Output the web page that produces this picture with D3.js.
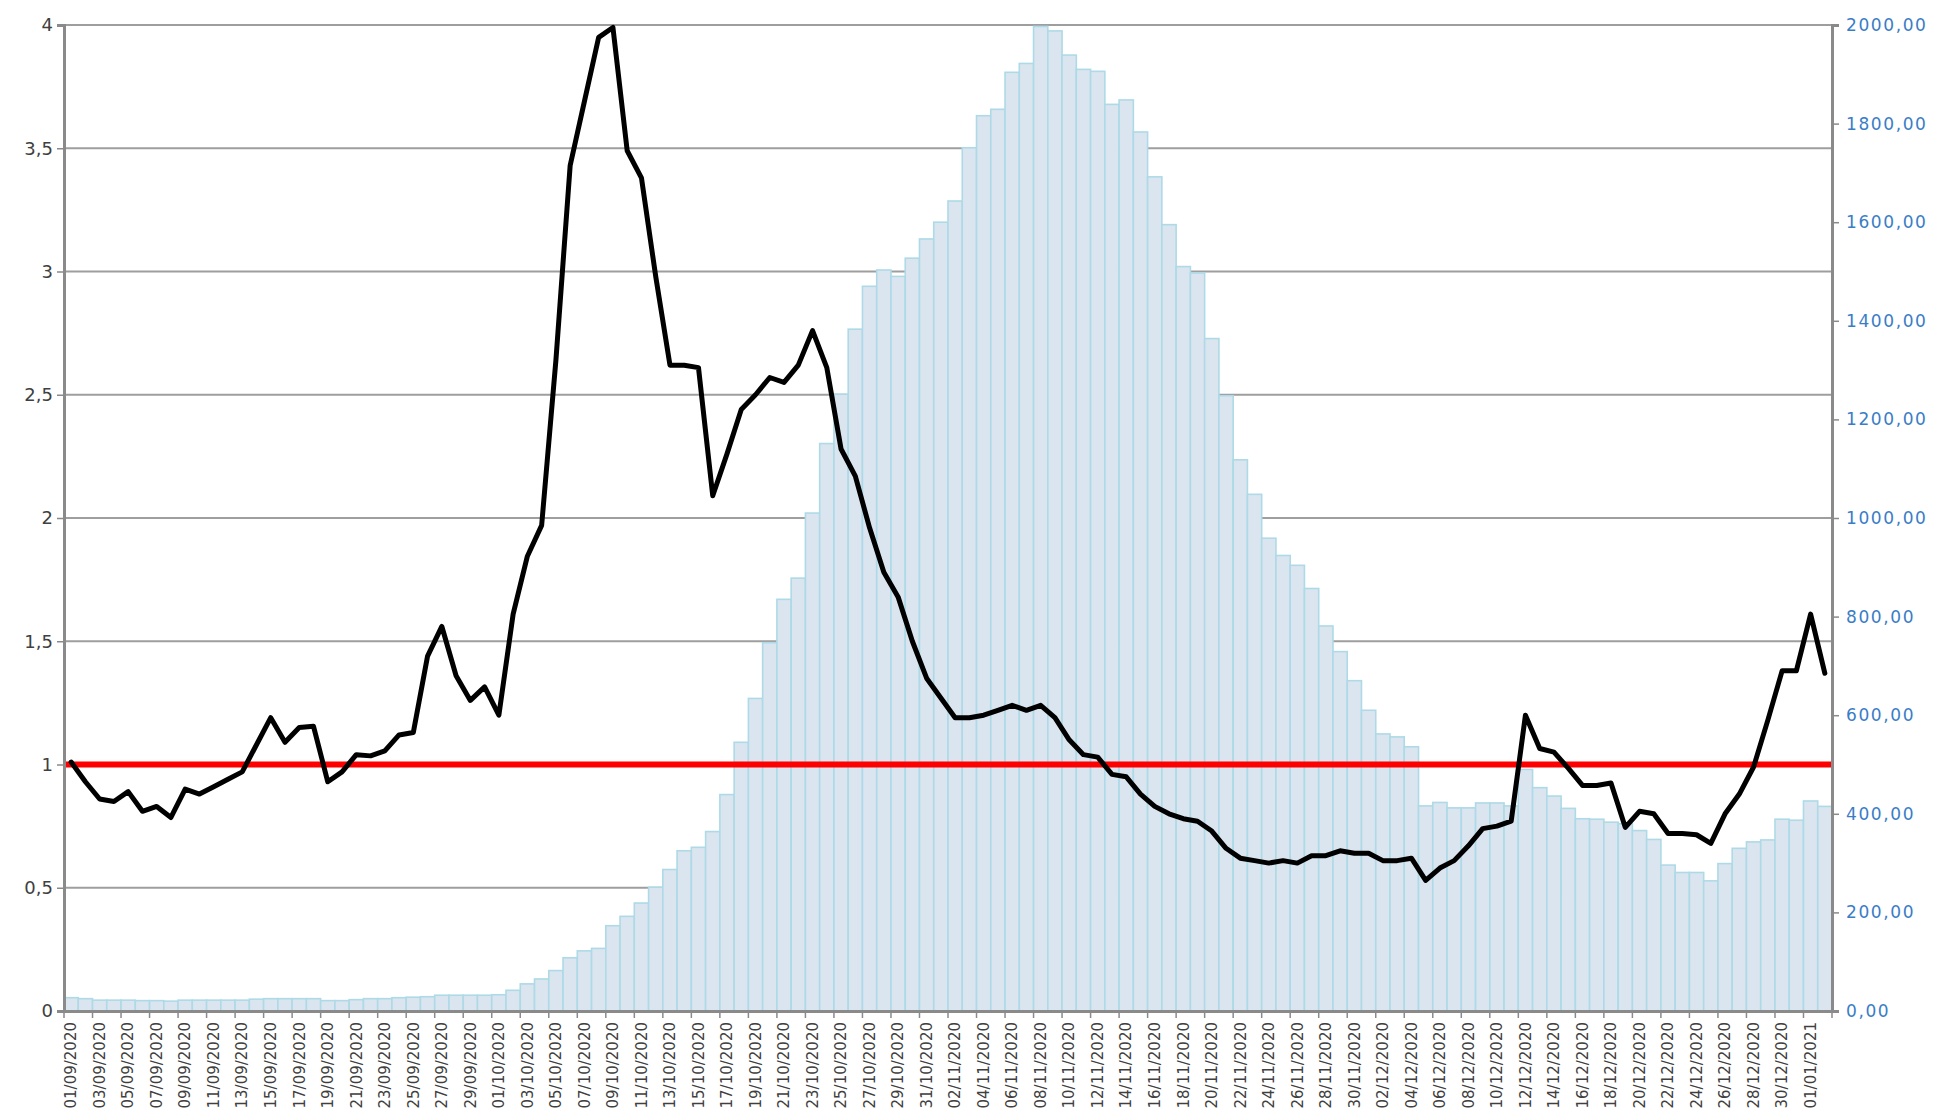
<!DOCTYPE html>
<html>
<head>
<meta charset="utf-8">
<script src="https://cdn.jsdelivr.net/npm/d3@7"></script>
<style>
  html, body { margin: 0; padding: 0; background: #ffffff; }
  svg { display: block; }
  text { font-family: "DejaVu Sans", Verdana, sans-serif; }
</style>
</head>
<body>
<svg id="chart" width="1934" height="1117"></svg>
<script>
// ---- Data ----
const startDate = new Date(2020, 8, 1);   // 01/09/2020
const endDate = new Date(2021, 0, 3);     // exclusive -> last day 02/01/2021
const fmtDay = d3.timeFormat("%d/%m/%Y");
const categories = d3.timeDay.range(startDate, endDate).map(fmtDay);

// Bars (right axis)
const barValues = [
  27, 25, 22, 22, 22, 21, 21, 20, 22, 22,
  22, 22, 22, 24, 25, 25, 25, 25, 21, 21,
  23, 25, 25, 27, 28, 29, 32, 32, 32, 32,
  33, 42, 55, 65, 82, 108, 122, 127, 173, 192,
  219, 251, 287, 325, 332, 364, 439, 545, 634, 747,
  835, 878, 1010, 1151, 1251, 1383, 1470, 1503, 1490, 1527,
  1566, 1600, 1643, 1751, 1816, 1829, 1904, 1922, 1997, 1988,
  1939, 1910, 1906, 1839, 1848, 1783, 1692, 1595, 1510, 1497,
  1364, 1248, 1118, 1048, 959, 924, 904, 857, 781, 729,
  670, 610, 562, 556, 536, 416, 423, 412, 412, 422,
  422, 416, 490, 453, 436, 411, 390, 389, 383, 380,
  366, 348, 296, 281, 281, 264, 299, 330, 343, 347,
  389, 387, 426, 415
];

// Line (left axis)
const lineValues = [
  1.01, 0.93, 0.86, 0.85, 0.89, 0.81, 0.83, 0.785, 0.90, 0.88,
  0.91, 0.94, 0.97, 1.08, 1.19, 1.09, 1.15, 1.155, 0.93, 0.97,
  1.04, 1.035, 1.055, 1.12, 1.13, 1.44, 1.56, 1.36, 1.26, 1.315,
  1.20, 1.61, 1.845, 1.97, 2.64, 3.43, 3.69, 3.95, 3.99, 3.49,
  3.38, 2.98, 2.62, 2.62, 2.61, 2.09, 2.26, 2.44, 2.50, 2.57,
  2.55, 2.62, 2.76, 2.61, 2.28, 2.17, 1.96, 1.78, 1.68, 1.50,
  1.35, 1.27, 1.19, 1.19, 1.20, 1.22, 1.24, 1.22, 1.24, 1.19,
  1.10, 1.04, 1.03, 0.96, 0.95, 0.88, 0.83, 0.80, 0.78, 0.77,
  0.73, 0.66, 0.62, 0.61, 0.60, 0.61, 0.60, 0.63, 0.63, 0.65,
  0.64, 0.64, 0.61, 0.61, 0.62, 0.53, 0.58, 0.61, 0.67, 0.74,
  0.75, 0.77, 1.20, 1.065, 1.05, 0.985, 0.915, 0.915, 0.925, 0.745,
  0.81, 0.80, 0.72, 0.72, 0.715, 0.68, 0.80, 0.88, 0.99, 1.18,
  1.38, 1.38, 1.61, 1.37
];

const thresholdValue = 1;
const leftTicks = [0, 0.5, 1, 1.5, 2, 2.5, 3, 3.5, 4];
const rightTicks = [0, 200, 400, 600, 800, 1000, 1200, 1400, 1600, 1800, 2000];

// ---- Layout ----
const plot = { left: 64, right: 1832, top: 25, bottom: 1011 };
const svg = d3.select("#chart");

const x = d3.scaleBand().domain(categories).range([plot.left, plot.right]).padding(0);
const yL = d3.scaleLinear().domain([0, 4]).range([plot.bottom, plot.top]);
const yR = d3.scaleLinear().domain([0, 2000]).range([plot.bottom, plot.top]);

const commaFmt = v => String(v).replace(".", ",");
const rightFmt = v => d3.format(".2f")(v).replace(".", ",");

// Gridlines (behind bars)
svg.append("g")
  .selectAll("line")
  .data(leftTicks.filter(d => d > 0))
  .join("line")
  .attr("x1", plot.left).attr("x2", plot.right)
  .attr("y1", d => yL(d)).attr("y2", d => yL(d))
  .attr("stroke", "#9e9e9e").attr("stroke-width", 2);

// Bars
svg.append("g")
  .selectAll("rect")
  .data(barValues)
  .join("rect")
  .attr("x", (d, i) => x(categories[i]))
  .attr("y", d => yR(d))
  .attr("width", x.bandwidth())
  .attr("height", d => yR(0) - yR(d))
  .attr("fill", "#dbe5f0")
  .attr("stroke", "#addae6")
  .attr("stroke-width", 1.6);

// Threshold line
svg.append("line")
  .attr("x1", plot.left).attr("x2", plot.right)
  .attr("y1", yL(thresholdValue)).attr("y2", yL(thresholdValue))
  .attr("stroke", "#ff0000").attr("stroke-width", 6);

// Black line
const line = d3.line()
  .x((d, i) => x(categories[i]) + x.bandwidth() / 2)
  .y(d => yL(d));
svg.append("path")
  .datum(lineValues)
  .attr("d", line)
  .attr("fill", "none")
  .attr("stroke", "#000000")
  .attr("stroke-width", 5)
  .attr("stroke-linejoin", "round")
  .attr("stroke-linecap", "round");

// Left axis
const leftAxis = svg.append("g")
  .attr("transform", `translate(${plot.left},0)`)
  .call(d3.axisLeft(yL).tickValues(leftTicks).tickFormat(commaFmt).tickSize(7).tickPadding(4));
leftAxis.select(".domain").attr("stroke", "#8a8a8a").attr("stroke-width", 3);
leftAxis.selectAll(".tick line").attr("stroke", "#8a8a8a").attr("stroke-width", 1.5);
leftAxis.selectAll(".tick text").attr("font-size", 18).attr("fill", "#404040");

// Right axis
const rightAxis = svg.append("g")
  .attr("transform", `translate(${plot.right},0)`)
  .call(d3.axisRight(yR).tickValues(rightTicks).tickFormat(rightFmt).tickSize(7).tickPadding(7));
rightAxis.select(".domain").attr("stroke", "#8a8a8a").attr("stroke-width", 3);
rightAxis.selectAll(".tick line").attr("stroke", "#8a8a8a").attr("stroke-width", 1.5);
rightAxis.selectAll(".tick text").attr("font-size", 17).attr("fill", "#3a7dc6").attr("letter-spacing", 1.6);

// Bottom axis: labels every 2 days, ticks at band boundaries
const labelCats = categories.filter((d, i) => i % 2 === 0);
const bottomAxis = svg.append("g")
  .attr("transform", `translate(0,${plot.bottom})`)
  .call(d3.axisBottom(x).tickValues(labelCats).tickSize(0).tickPadding(0));
bottomAxis.select(".domain").attr("stroke", "#8a8a8a").attr("stroke-width", 3);
bottomAxis.selectAll(".tick text")
  .attr("font-size", 15)
  .attr("fill", "#404040")
  .attr("text-anchor", "end")
  .attr("dy", "0.35em")
  .attr("transform", "translate(0,11) rotate(-90)")
  .attr("x", 0).attr("y", 0);

const boundaryTicks = labelCats.map(c => x(c)).concat([plot.right]);
svg.append("g")
  .selectAll("line")
  .data(boundaryTicks)
  .join("line")
  .attr("x1", d => d).attr("x2", d => d)
  .attr("y1", plot.bottom).attr("y2", plot.bottom + 7)
  .attr("stroke", "#8a8a8a").attr("stroke-width", 1.5);
</script>
</body>
</html>
